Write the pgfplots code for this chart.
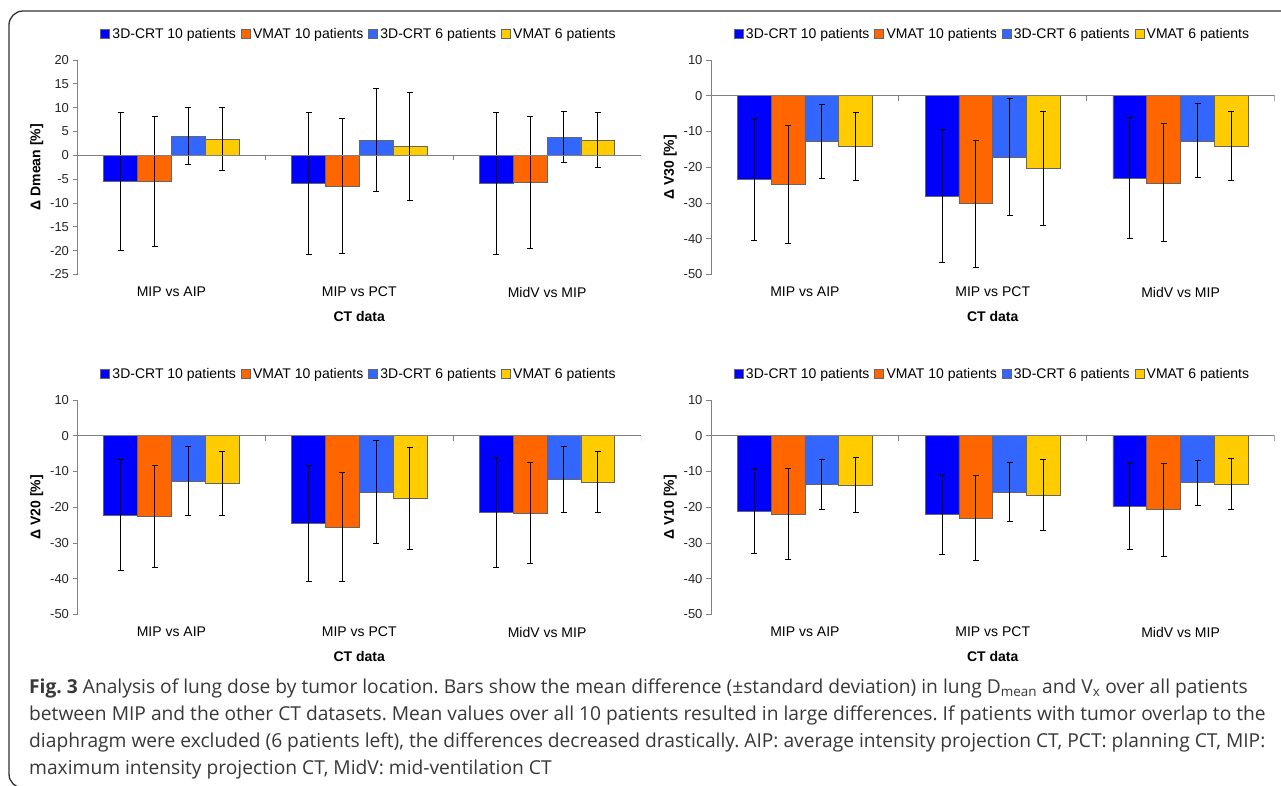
\documentclass[border=0pt]{standalone}
\usepackage{pgfplots}
\pgfplotsset{compat=1.18}
\usepackage{pgfplotstable}
\usepackage{fontspec}
\setmainfont{Liberation Sans}
\newfontfamily\capfont{Open Sans}
\frenchspacing
\definecolor{cBlue}{HTML}{0000FF}
\definecolor{cOrange}{HTML}{FF6600}
\definecolor{cLight}{HTML}{3366FF}
\definecolor{cYellow}{HTML}{FFCC00}
\definecolor{axgray}{HTML}{808080}
\definecolor{capgray}{HTML}{383838}

% columns: x, mean/sd for 3D-CRT 10, VMAT 10, 3D-CRT 6, VMAT 6
\pgfplotstableread{
x  b10    b10e   o10    o10e   b6     b6e    y6     y6e
0  -5.5   14.5   -5.5   13.7   4.05   5.95   3.4    6.6
1  -5.95  14.9   -6.5   14.15  3.2    10.8   1.8    11.35
2  -5.9   14.8   -5.75  13.8   3.8    5.3    3.2    5.85
}\dmean
\pgfplotstableread{
x  b10    b10e   o10    o10e   b6     b6e    y6     y6e
0  -23.5  17.1   -24.9  16.5   -12.8  10.4   -14.2  9.6
1  -28.0  18.7   -30.2  17.8   -17.2  16.3   -20.3  16.0
2  -23.0  16.9   -24.4  16.5   -12.6  10.4   -14.05 9.65
}\vthirty
\pgfplotstableread{
x  b10    b10e   o10    o10e   b6     b6e    y6     y6e
0  -22.2  15.45  -22.6  14.15  -12.7  9.7    -13.35 8.9
1  -24.5  16.25  -25.6  15.3   -15.7  14.45  -17.55 14.4
2  -21.5  15.4   -21.6  14.2   -12.3  9.3    -13.0  8.6
}\vtwenty
\pgfplotstableread{
x  b10    b10e   o10    o10e   b6     b6e    y6     y6e
0  -21.0  11.85  -21.85 12.8   -13.7  6.95   -13.8  7.8
1  -22.0  11.15  -23.05 11.9   -15.7  8.2    -16.6  9.9
2  -19.7  12.15  -20.7  13.0   -13.1  6.3    -13.45 7.1
}\vten

\pgfplotsset{
  panel/.style={
    scale only axis, width=563.5pt, height=214.5pt,
    anchor=north west,
    axis y line=left, axis x line=bottom,
    axis line style={-, draw=axgray, line width=0.8pt},
    x axis line style={draw=none},
    xmin=-0.5, xmax=2.5, xtick={0,1,2},
    xticklabels={MIP vs AIP, MIP vs PCT, MidV vs MIP},
    x tick style={draw=none},
    y tick style={draw=axgray, line width=0.8pt},
    tick align=outside, major tick length=5pt,
    /pgf/number format/assume math mode=true,
    y tick label style={font=\fontsize{13}{15}\selectfont, text=black!85},
    x tick label style={font=\fontsize{14}{16}\selectfont, yshift=-4pt},
    label style={font=\fontsize{14}{16}\selectfont\bfseries},
    xlabel={CT data},
    xlabel style={yshift=-7pt},
    ybar, bar width=0.18,
    legend columns=4,
    legend style={at={(0.5,1)}, anchor=south, yshift=17pt, draw=none, fill=none,
      font=\fontsize{14}{16}\selectfont,
      nodes={inner xsep=2.5pt, inner ysep=1pt},
      /tikz/every even column/.append style={column sep=2.5pt}},
    legend image code/.code={\draw[#1,line width=0.6pt] (0pt,-4.5pt) rectangle (9pt,4.5pt);},
    every axis plot/.append style={draw=black!60, line width=0.6pt},
  },
  eb/.style={
    error bars/.cd, y dir=both, y explicit,
    error mark=-,
    error bar style={black, line width=1pt},
    error mark options={rotate=90, black, line width=1pt, mark size=3pt},
  },
}

\newcommand{\bars}[1]{%
  \addplot[fill=cBlue, bar shift=-0.27, eb] table[x=x, y=b10, y error=b10e] {#1};
  \addplot[fill=cOrange, bar shift=-0.09, eb] table[x=x, y=o10, y error=o10e] {#1};
  \addplot[fill=cLight, bar shift=0.09, eb] table[x=x, y=b6, y error=b6e] {#1};
  \addplot[fill=cYellow, bar shift=0.27, eb] table[x=x, y=y6, y error=y6e] {#1};
  \legend{3D-CRT 10 patients, VMAT 10 patients, 3D-CRT 6 patients, VMAT 6 patients}
  \draw[axgray, line width=0.8pt] (axis cs:-0.5,0) -- (axis cs:2.5,0);
  \draw[axgray, line width=0.8pt] (axis cs:0.5,0) -- ++(0pt,-5pt);
  \draw[axgray, line width=0.8pt] (axis cs:1.5,0) -- ++(0pt,-5pt);
  \draw[axgray, line width=0.8pt] (axis cs:2.5,0) -- ++(0pt,-5pt);
}

\begin{document}
\begin{tikzpicture}
\useasboundingbox (0pt,0pt) rectangle (1281pt,-785pt);
\fill[white] (0pt,0pt) rectangle (1281pt,-785pt);
\draw[black!80, line width=1.3pt, rounded corners=14pt] (1300pt,-11pt) -- (9pt,-11pt) -- (9pt,-788pt) -- (1300pt,-788pt);

\begin{axis}[panel, at={(77.5pt,-60pt)}, ymin=-25, ymax=20, ytick={-25,-20,...,20},
  ylabel={Δ Dmean [\%]}]
\bars{\dmean}
\end{axis}

\begin{axis}[panel, at={(711pt,-60pt)}, ymin=-50, ymax=10, ytick={-50,-40,...,10},
  ylabel={Δ V30 [\%]}]
\bars{\vthirty}
\end{axis}

\begin{axis}[panel, at={(77.5pt,-400pt)}, ymin=-50, ymax=10, ytick={-50,-40,...,10},
  ylabel={Δ V20 [\%]}]
\bars{\vtwenty}
\end{axis}

\begin{axis}[panel, at={(711pt,-400pt)}, ymin=-50, ymax=10, ytick={-50,-40,...,10},
  ylabel={Δ V10 [\%]}]
\bars{\vten}
\end{axis}

\begin{scope}[every node/.style={anchor=base west, inner sep=0pt, text=capgray, font=\capfont\fontsize{19.2}{22}\selectfont}]
\node at (29pt,-693pt) {\textbf{Fig. 3} Analysis of lung dose by tumor location. Bars show the mean difference (±standard deviation) in lung D\textsubscript{mean} and V\textsubscript{x} over all patients};
\node at (29pt,-720pt) {between MIP and the other CT datasets. Mean values over all 10 patients resulted in large differences. If patients with tumor overlap to the};
\node at (29pt,-747pt) {diaphragm were excluded (6 patients left), the differences decreased drastically. AIP: average intensity projection CT, PCT: planning CT, MIP:};
\node at (29pt,-774pt) {maximum intensity projection CT, MidV: mid-ventilation CT};
\end{scope}
\end{tikzpicture}
\end{document}
